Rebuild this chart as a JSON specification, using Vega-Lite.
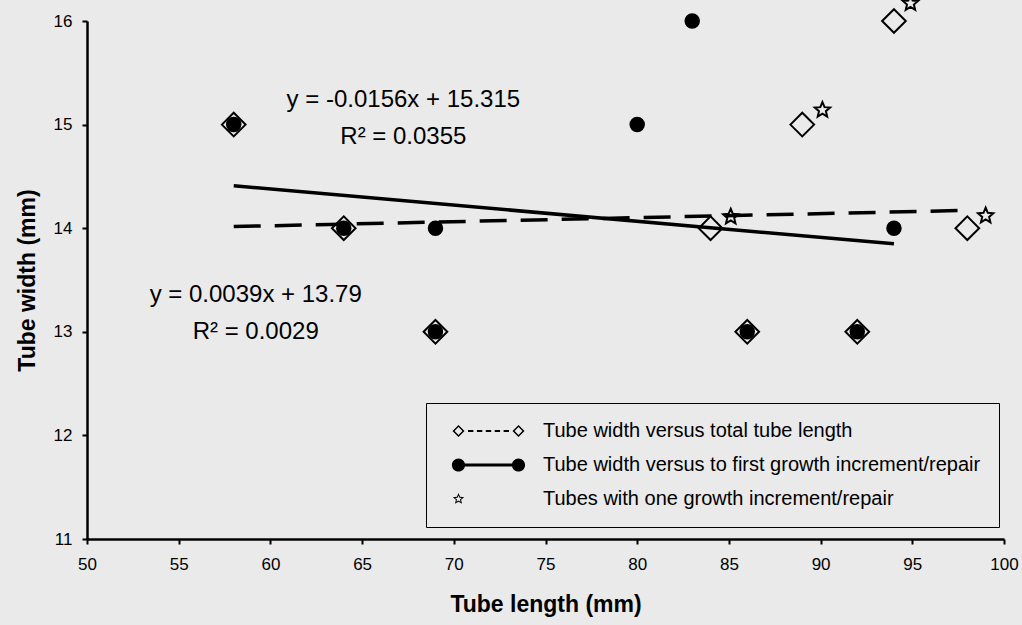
{
  "$schema": "https://vega.github.io/schema/vega-lite/v6.json",
  "width": 917,
  "height": 518,
  "autosize": {"type": "none"},
  "padding": {"left": 87, "top": 21, "right": 18, "bottom": 86},
  "background": "#eaeaea",
  "config": {
    "view": {"stroke": null},
    "font": "Liberation Sans",
    "axis": {
      "domainColor": "black",
      "domainWidth": 2.5,
      "tickColor": "black",
      "tickWidth": 2,
      "tickSize": 5,
      "grid": false,
      "labelFlush": false,
      "labelColor": "black",
      "labelFont": "Liberation Sans",
      "labelFontSize": 17,
      "titleColor": "black",
      "titleFont": "Liberation Sans",
      "titleFontSize": 23,
      "titleFontWeight": "bold"
    }
  },
  "datasets": {
    "points": [
      {"length": 58, "width": 15, "series": "Tube width versus total tube length"},
      {"length": 64, "width": 14, "series": "Tube width versus total tube length"},
      {"length": 69, "width": 13, "series": "Tube width versus total tube length"},
      {"length": 84, "width": 14, "series": "Tube width versus total tube length"},
      {"length": 86, "width": 13, "series": "Tube width versus total tube length"},
      {"length": 89, "width": 15, "series": "Tube width versus total tube length"},
      {"length": 92, "width": 13, "series": "Tube width versus total tube length"},
      {"length": 94, "width": 16, "series": "Tube width versus total tube length"},
      {"length": 98, "width": 14, "series": "Tube width versus total tube length"},
      {"length": 58, "width": 15, "series": "Tube width versus to first growth increment/repair"},
      {"length": 64, "width": 14, "series": "Tube width versus to first growth increment/repair"},
      {"length": 69, "width": 13, "series": "Tube width versus to first growth increment/repair"},
      {"length": 69, "width": 14, "series": "Tube width versus to first growth increment/repair"},
      {"length": 80, "width": 15, "series": "Tube width versus to first growth increment/repair"},
      {"length": 83, "width": 16, "series": "Tube width versus to first growth increment/repair"},
      {"length": 86, "width": 13, "series": "Tube width versus to first growth increment/repair"},
      {"length": 92, "width": 13, "series": "Tube width versus to first growth increment/repair"},
      {"length": 94, "width": 14, "series": "Tube width versus to first growth increment/repair"},
      {"length": 85.1, "width": 14.11, "series": "Tubes with one growth increment/repair"},
      {"length": 90.1, "width": 15.14, "series": "Tubes with one growth increment/repair"},
      {"length": 94.9, "width": 16.17, "series": "Tubes with one growth increment/repair"},
      {"length": 99.0, "width": 14.12, "series": "Tubes with one growth increment/repair"}
    ],
    "trendTotal": [
      {"length": 58, "width": 14.016},
      {"length": 98, "width": 14.172}
    ],
    "trendFirst": [
      {"length": 58, "width": 14.410},
      {"length": 94, "width": 13.849}
    ],
    "notes": [
      {"length": 67.25, "width": 15.24, "text": "y = -0.0156x + 15.315"},
      {"length": 67.25, "width": 14.88, "text": "R² = 0.0355"},
      {"length": 59.2, "width": 13.36, "text": "y = 0.0039x + 13.79"},
      {"length": 59.2, "width": 13.0, "text": "R² = 0.0029"}
    ]
  },
  "encoding": {
    "x": {
      "field": "length", "type": "quantitative",
      "scale": {"domain": [50, 100], "nice": false, "zero": false},
      "axis": {"orient": "bottom", "values": [50, 55, 60, 65, 70, 75, 80, 85, 90, 95, 100], "format": "d", "title": "Tube length (mm)", "labelPadding": 12, "titlePadding": 21}
    },
    "y": {
      "field": "width", "type": "quantitative",
      "scale": {"domain": [11, 16], "nice": false, "zero": false},
      "axis": {"orient": "left", "values": [11, 12, 13, 14, 15, 16], "format": "d", "title": "Tube width (mm)", "labelPadding": 10, "titlePadding": 14}
    }
  },
  "resolve": {"scale": {"shape": "independent"}, "legend": {"shape": "independent"}},
  "layer": [
    {
      "data": {"name": "trendTotal"},
      "mark": {"type": "line", "color": "black", "strokeWidth": 3.5, "strokeDash": [27, 14], "clip": false}
    },
    {
      "data": {"name": "trendFirst"},
      "mark": {"type": "line", "color": "black", "strokeWidth": 3.5, "clip": false}
    },
    {
      "data": {"name": "points"},
      "mark": {"type": "point", "filled": true, "stroke": "black", "strokeWidth": 2, "opacity": 1, "size": 560, "clip": false},
      "encoding": {
        "shape": {
          "field": "series", "type": "nominal",
          "scale": {
            "domain": ["Tube width versus total tube length", "Tube width versus to first growth increment/repair", "Tubes with one growth increment/repair"],
            "range": [
              "M-1,0L0,-1L1,0L0,1Z",
              "M-0.57,0A0.57,0.57 0 1,1 0.57,0A0.57,0.57 0 1,1 -0.57,0Z",
              "M0,-0.68L0.18,-0.248L0.647,-0.21L0.291,0.095L0.4,0.55L0,0.306L-0.4,0.55L-0.291,0.095L-0.647,-0.21L-0.18,-0.248Z"
            ]
          },
          "legend": null
        },
        "fill": {
          "field": "series", "type": "nominal",
          "scale": {
            "domain": ["Tube width versus total tube length", "Tube width versus to first growth increment/repair", "Tubes with one growth increment/repair"],
            "range": ["transparent", "black", "transparent"]
          },
          "legend": null
        }
      }
    },
    {
      "data": {"name": "points"},
      "mark": {"type": "point", "filled": true, "fill": "black", "strokeWidth": 0, "opacity": 0, "size": 144, "clip": false},
      "encoding": {
        "shape": {
          "field": "series", "type": "nominal",
          "scale": {
            "domain": ["Tube width versus total tube length", "Tube width versus to first growth increment/repair", "Tubes with one growth increment/repair"],
            "range": [
              "M-0.25,0L0.75,-1L1.75,0L0.75,1Z M0.1,0L0.75,0.65L1.4,0L0.75,-0.65Z M2.333,-0.15L3.233,-0.15L3.233,0.15L2.333,0.15Z M3.817,-0.15L4.717,-0.15L4.717,0.15L3.817,0.15Z M5.3,-0.15L6.2,-0.15L6.2,0.15L5.3,0.15Z M6.783,-0.15L7.683,-0.15L7.683,0.15L6.783,0.15Z M8.267,-0.15L9.167,-0.15L9.167,0.15L8.267,0.15Z M9.75,0L10.75,-1L11.75,0L10.75,1Z M10.1,0L10.75,0.65L11.4,0L10.75,-0.65Z",
              "M-0.35,0A1.1,1.1 0 1,1 1.85,0A1.1,1.1 0 1,1 -0.35,0Z M1.7,-0.25L9.8,-0.25L9.8,0.25L1.7,0.25Z M9.65,0A1.1,1.1 0 1,1 11.85,0A1.1,1.1 0 1,1 9.65,0Z",
              "M0.75,-1L1.015,-0.364L1.701,-0.309L1.178,0.139L1.338,0.809L0.75,0.45L0.162,0.809L0.322,0.139L-0.201,-0.309L0.485,-0.364Z M0.75,-0.58L0.596,-0.211L0.198,-0.179L0.502,0.081L0.409,0.469L0.75,0.261L1.091,0.469L0.998,0.081L1.302,-0.179L0.904,-0.211Z"
            ]
          },
          "legend": {
            "title": null,
            "orient": "none",
            "legendX": 339,
            "legendY": 382,
            "padding": 18,
            "strokeColor": "black",
            "fillColor": "#eaeaea",
            "labelFont": "Liberation Sans",
            "labelFontSize": 20,
            "labelColor": "black",
            "labelLimit": 600,
            "rowPadding": 14,
            "symbolSize": 144,
            "symbolOpacity": 1,
            "symbolFillColor": "black",
            "symbolStrokeWidth": 0,
            "labelOffset": 79
          }
        }
      }
    },
    {
      "data": {"name": "notes"},
      "mark": {"type": "text", "font": "Liberation Sans", "fontSize": 24, "color": "black", "align": "center", "baseline": "middle"},
      "encoding": {
        "text": {"field": "text"}
      }
    }
  ]
}
